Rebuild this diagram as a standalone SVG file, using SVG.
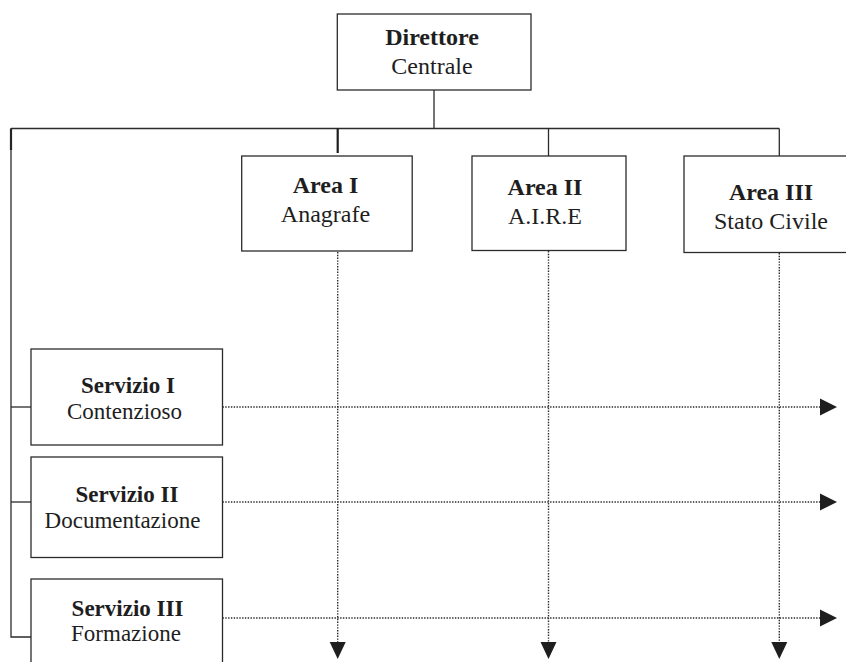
<svg xmlns="http://www.w3.org/2000/svg" width="846" height="662" viewBox="0 0 846 662">
  <style>
    .box { fill: #ffffff; stroke: #2b2b2b; stroke-width: 1.3; }
    .line { fill: none; stroke: #2b2b2b; stroke-width: 1.3; }
    .thick { fill: none; stroke: #1e1e1e; stroke-width: 2.2; }
    .dot { fill: none; stroke: #2b2b2b; stroke-width: 1.4; stroke-dasharray: 1.4 1.4; }
    .head { fill: #1e1e1e; stroke: none; }
    text { font-family: "Liberation Serif", "Times New Roman", serif; fill: #1e1e1e; text-anchor: middle; }
    .t { font-size: 24px; }
    .s { font-size: 23px; }
    .b { font-weight: bold; }
  </style>
  <rect width="846" height="662" fill="#ffffff"/>

  <!-- connectors -->
  <g id="connectors">
    <!-- solid hierarchy lines -->
    <path class="line" d="M434 90 V128.5"/>
    <path class="line" d="M11 128.5 H779.3"/>
    <path class="thick" d="M337.7 128.5 V153"/>
    <path class="line" d="M548.5 128.5 V156"/>
    <path class="line" d="M779.3 128.5 V156"/>
    <path class="thick" d="M11 128.5 V150"/>
    <path class="line" d="M11 128.5 V637 H31"/>
    <path class="line" d="M11 407 H31"/>
    <path class="line" d="M11 502 H31"/>

    <!-- dotted vertical flows from the areas -->
    <path class="dot" d="M337.7 252 V642"/>
    <path class="dot" d="M548.5 251 V642"/>
    <path class="dot" d="M779.3 253 V642"/>
    <polygon class="head" points="329.7,642 345.7,642 337.7,659"/>
    <polygon class="head" points="540.5,642 556.5,642 548.5,659"/>
    <polygon class="head" points="771.3,642 787.3,642 779.3,659"/>

    <!-- dotted horizontal flows from the services -->
    <path class="dot" d="M222.5 407 H820"/>
    <path class="dot" d="M222.5 502 H820"/>
    <path class="dot" d="M222.5 618 H820"/>
    <polygon class="head" points="820,398.5 820,415.5 837,407"/>
    <polygon class="head" points="820,493.5 820,510.5 837,502"/>
    <polygon class="head" points="820,609.5 820,626.5 837,618"/>
  </g>

  <g id="direttore">
    <rect class="box" x="337.3" y="14" width="193.7" height="76"/>
    <text class="t b" x="432" y="45">Direttore</text>
    <text class="t" x="432" y="74">Centrale</text>
  </g>

  <g id="area1">
    <rect class="box" x="241.7" y="156" width="170.5" height="95"/>
    <text class="t b" x="325.5" y="193">Area I</text>
    <text class="t" x="325.5" y="222">Anagrafe</text>
  </g>

  <g id="area2">
    <rect class="box" x="472" y="156" width="154" height="94.5"/>
    <text class="t b" x="545" y="195">Area II</text>
    <text class="t" x="545" y="224">A.I.R.E</text>
  </g>

  <g id="area3">
    <rect class="box" x="684" y="156" width="180" height="96.5"/>
    <text class="t b" x="771" y="200">Area III</text>
    <text class="t" x="771" y="229">Stato Civile</text>
  </g>

  <g id="servizio1">
    <rect class="box" x="31" y="349" width="191.5" height="96"/>
    <text class="s b" x="128" y="393">Servizio I</text>
    <text class="s" x="124.5" y="419">Contenzioso</text>
  </g>

  <g id="servizio2">
    <rect class="box" x="31" y="457" width="191.5" height="100.5"/>
    <text class="s b" x="127" y="502">Servizio II</text>
    <text class="s" x="122.5" y="528">Documentazione</text>
  </g>

  <g id="servizio3">
    <rect class="box" x="31" y="579" width="191.5" height="100"/>
    <text class="s b" x="127.5" y="616">Servizio III</text>
    <text class="s" x="126" y="641">Formazione</text>
  </g>
</svg>
